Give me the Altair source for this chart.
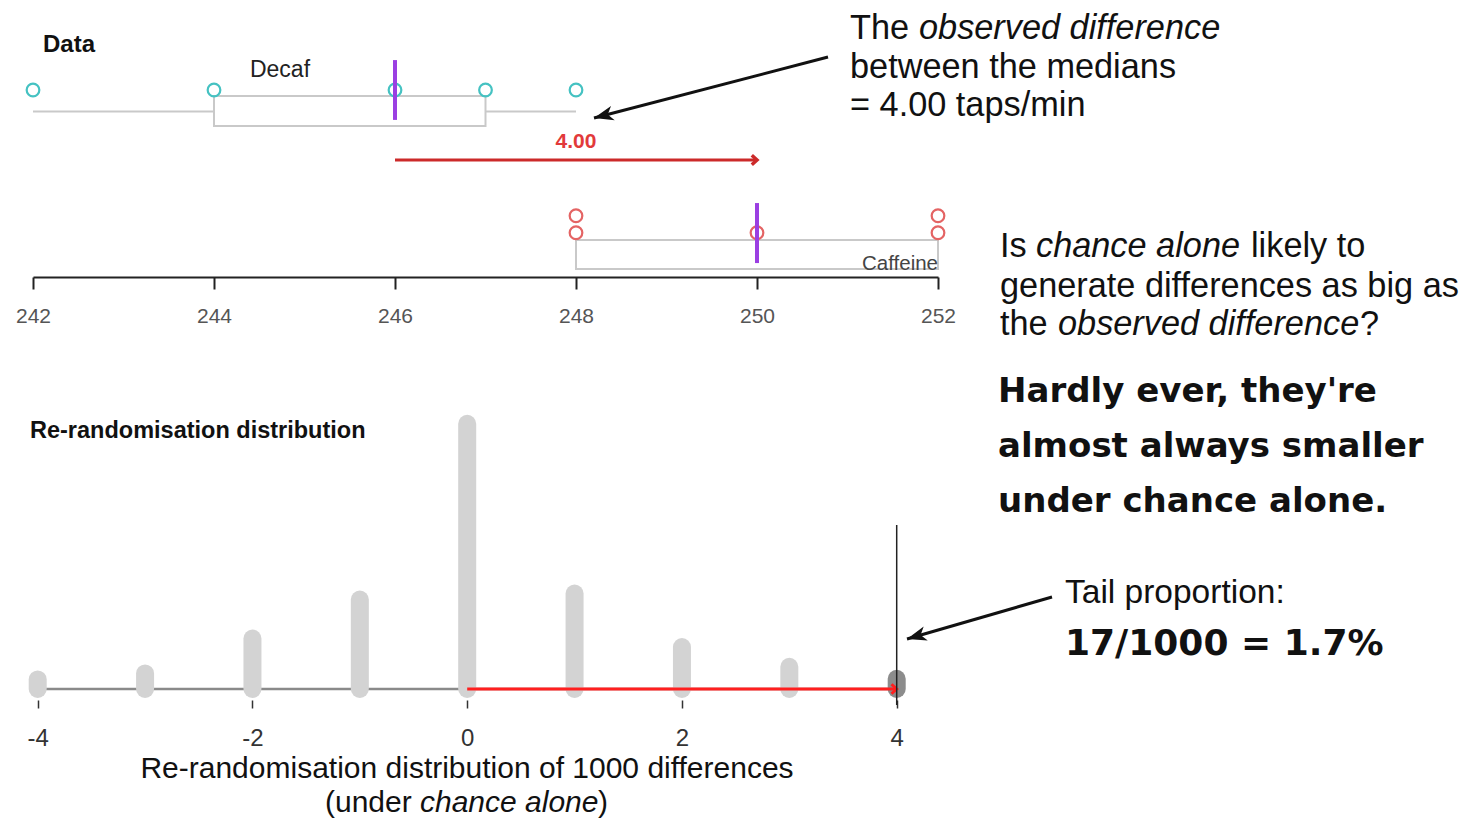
import altair as alt
import numpy as np
import pandas as pd

# ------------------------------------------------------------------ data
group_names = ["Decaf", "Caffeine"]
decaf_taps = [242, 244, 246, 247, 248]
caffeine_taps = [248, 248, 250, 252, 252]
data_ticks = [242, 244, 246, 248, 250, 252]

rerand_diffs = [-4, -3, -2, -1, 0, 1, 2, 3, 4]
rerand_counts = [16, 26, 84, 149, 442, 159, 70, 37, 17]
rerand_ticks = [-4, -2, 0, 2, 4]
units = "taps/min"

# ------------------------------------------------------------------ layout / style
W, H = 1454, 812
SANS = "Liberation Sans, Arial, Helvetica, sans-serif"
HEAVY = "DejaVu Sans, Verdana, sans-serif"
TEAL = "#45c2c2"
CAF_RED = "#e46464"
PURPLE = "#9b3fe2"
BOX_GREY = "#c9c9c9"
ARROW_RED = "#cc2a2a"
LABEL_RED = "#e23a3a"
BRIGHT_RED = "#ff1f1f"
BAR_LIGHT = "#d3d3d3"
BAR_DARK = "#8c8c8c"

TOP_X = alt.Scale(domain=[242, 252], range=[25, 930], nice=False, zero=False)
TOP_Y = alt.Scale(domain=[0, 16], range=[269, -3], nice=False, zero=False)
BOT_X = alt.Scale(domain=[-4, 4], range=[29.7, 888.7], nice=False, zero=False)
BOT_Y = alt.Scale(domain=[0, 500], range=[681, 381], nice=False, zero=False)

LEVELS = {  # vertical placement of each group's row, in stack units
    "Decaf": {"pt": 11.0, "box": (8.88, 10.65), "whisk": 9.74, "med": (9.24, 12.76)},
    "Caffeine": {"pt": 2.6, "box": (0.47, 2.18), "whisk": 1.32, "med": (0.82, 4.35)},
}
ARROW_LEVEL = 6.88
ARROW_LABEL_LEVEL = 7.59

ARROWHEAD = "M0,0 L-2,-0.75 L-1.45,0 L-2,0.75 Z"
CHEVRON = "M-1.1,-1 L0,0 L-1.1,1"

# ------------------------------------------------------------------ derived tables
pt_rows = []
box_rows = []
whisk_rows = []
for g, vals in zip(group_names, [decaf_taps, caffeine_taps]):
    seen = {}
    for v in vals:
        k = seen.get(v, 0)
        seen[v] = k + 1
        pt_rows.append({"group": g, "value": v, "level": LEVELS[g]["pt"] + k})
    a = np.array(vals, dtype=float)
    q1, med, q3 = np.percentile(a, [25, 50, 75])
    lo, hi = a.min(), a.max()
    L = LEVELS[g]
    box_rows.append(dict(group=g, q1=q1, q3=q3, med=med, y1=L["box"][0], y2=L["box"][1],
                         m1=L["med"][0], m2=L["med"][1]))
    if lo < q1:
        whisk_rows.append(dict(group=g, a=lo, b=q1, y=L["whisk"]))
    if hi > q3:
        whisk_rows.append(dict(group=g, a=q3, b=hi, y=L["whisk"]))

pts = pd.DataFrame(pt_rows)
box_df = pd.DataFrame(box_rows)
whisk_df = pd.DataFrame(whisk_rows)

med_decaf = float(np.median(decaf_taps))
med_caf = float(np.median(caffeine_taps))
obs = med_caf - med_decaf
arrow_df = pd.DataFrame({"a": [med_decaf], "b": [med_caf], "y": [ARROW_LEVEL],
                         "mid": [(med_decaf + med_caf) / 2], "ylab": [ARROW_LABEL_LEVEL],
                         "lab": [f"{obs:.2f}"]})

rr = pd.DataFrame({"diff": rerand_diffs, "count": rerand_counts})
rr["zero"] = 0
rr["tail"] = np.where(rr["diff"] >= obs, "tail", "body")
n_rerand = int(rr["count"].sum())
tail_count = int(rr.loc[rr["diff"] >= obs, "count"].sum())
base_df = pd.DataFrame({"a": [min(rerand_diffs)], "b": [max(rerand_diffs)], "y": [0]})
obs_df = pd.DataFrame({"a": [0], "b": [obs], "y": [0]})

# ------------------------------------------------------------------ axes
top_axis = alt.Axis(values=data_ticks, orient="bottom", offset=269 - H, title=None, grid=False,
                    domainColor="#222", domainWidth=2, tickColor="#222", tickWidth=2, tickSize=12,
                    labelFont=SANS, labelFontSize=21, labelColor="#555", labelBaseline="alphabetic",
                    labelPadding=33, labelFlush=False, labelOverlap=False, format="d")
bot_axis = alt.Axis(values=rerand_ticks, orient="bottom", offset=692 - H, title=None, grid=False,
                    domain=False, tickColor="#333", tickWidth=1.5, tickSize=8,
                    labelFont=SANS, labelFontSize=24, labelColor="#333", labelBaseline="alphabetic",
                    labelPadding=37, labelFlush=False, labelOverlap=False,
                    labelExpr="datum.value < 0 ? '-' + abs(datum.value) : '' + datum.value")


def tx(field):
    return alt.X(field, scale=TOP_X, axis=top_axis)


def ty(field):
    return alt.Y(field, scale=TOP_Y, axis=None)


def bx(field):
    return alt.X(field, scale=BOT_X, axis=bot_axis)


def by(field):
    return alt.Y(field, scale=BOT_Y, axis=None)


# ------------------------------------------------------------------ top panel (data)
box = alt.Chart(box_df).mark_rect(fill="transparent", stroke=BOX_GREY, strokeWidth=2).encode(
    x=tx("q1:Q"), x2="q3:Q", y=ty("y1:Q"), y2="y2:Q")
whisk = alt.Chart(whisk_df).mark_rule(color=BOX_GREY, strokeWidth=2).encode(
    x=tx("a:Q"), x2="b:Q", y=ty("y:Q"))
points = alt.Chart(pts).mark_point(shape="circle", filled=False, size=160, strokeWidth=2.2, opacity=1).encode(
    x=tx("value:Q"), y=ty("level:Q"),
    color=alt.Color("group:N", scale=alt.Scale(domain=group_names, range=[TEAL, CAF_RED]), legend=None))
medians = alt.Chart(box_df).mark_rule(color=PURPLE, strokeWidth=4).encode(
    x=tx("med:Q"), y=ty("m1:Q"), y2="m2:Q")
arr_line = alt.Chart(arrow_df).mark_rule(color=ARROW_RED, strokeWidth=3).encode(
    x=tx("a:Q"), x2="b:Q", y=ty("y:Q"))
arr_head = alt.Chart(arrow_df).mark_point(shape=CHEVRON, filled=False, size=90, strokeWidth=3.5,
                                          color=ARROW_RED, opacity=1).encode(x=tx("b:Q"), y=ty("y:Q"))
arr_lab = alt.Chart(arrow_df).mark_text(font=SANS, fontSize=21, fontWeight="bold", color=LABEL_RED,
                                        baseline="alphabetic", align="center").encode(
    x=tx("mid:Q"), y=ty("ylab:Q"), text="lab:N")

top = alt.layer(box, whisk, points, medians, arr_line, arr_head, arr_lab)

# ------------------------------------------------------------------ bottom panel (re-randomisation)
baseline = alt.Chart(base_df).mark_rule(color="#8a8a8a", strokeWidth=2.5).encode(
    x=bx("a:Q"), x2="b:Q", y=by("y:Q"))
bars = alt.Chart(rr).mark_rule(strokeWidth=18, strokeCap="round").encode(
    x=bx("diff:Q"), y=by("count:Q"), y2="zero:Q",
    color=alt.Color("tail:N", scale=alt.Scale(domain=["body", "tail"], range=[BAR_LIGHT, BAR_DARK]),
                    legend=None))
red_line = alt.Chart(obs_df).mark_rule(color=BRIGHT_RED, strokeWidth=3).encode(
    x=bx("a:Q"), x2="b:Q", y=by("y:Q"))
red_head = alt.Chart(obs_df).mark_point(shape=CHEVRON, filled=False, size=90, strokeWidth=3,
                                        color=BRIGHT_RED, opacity=1).encode(x=bx("b:Q"), y=by("y:Q"))
obs_line = alt.Chart(obs_df).mark_rule(color="#222", strokeWidth=1.5).encode(
    x=bx("b:Q"), y=alt.value(517), y2=alt.value(697))

bottom = alt.layer(baseline, bars, red_line, red_head, obs_line)


# ------------------------------------------------------------------ annotation texts
def label(s, x, y, size, font=SANS, weight="normal", style="normal", color="#111", align="left"):
    return alt.Chart(pd.DataFrame({"t": [s]})).mark_text(
        x=x, y=y, font=font, fontSize=size, fontWeight=weight, fontStyle=style, color=color,
        align=align, baseline="alphabetic").encode(text="t:N")


def arrow(x1, y1, x2, y2):
    ang = float(np.degrees(np.arctan2(y2 - y1, x2 - x1)) % 360)
    line = alt.Chart(pd.DataFrame({"k": [0]})).mark_rule(color="#111", strokeWidth=3).encode(
        x=alt.value(x1), y=alt.value(y1), x2=alt.value(x2), y2=alt.value(y2))
    head = alt.Chart(pd.DataFrame({"k": [0]})).mark_point(
        shape=ARROWHEAD, filled=True, size=380, angle=ang, color="#111", opacity=1).encode(
        x=alt.value(x2), y=alt.value(y2))
    return [line, head]


RT = 34.3  # right-hand explanatory text size
BT = 30    # bottom axis title size
texts = [
    label("Data", 35, 44, 24, weight="bold"),
    label("Decaf", 272, 69, 23, color="#222", align="center"),
    label("Caffeine", 930, 262, 20.5, color="#444", align="right"),
    label("Re-randomisation distribution", 22, 430, 23.5, weight="bold"),
    # top-right
    label("The ", 842, 31, RT),
    label("observed difference", 911, 31, RT, style="italic"),
    label("between the medians", 842, 70, RT),
    label(f"= {obs:.2f} {units}", 842, 108, RT),
    # right middle
    label("Is ", 992, 249, RT),
    label("chance alone", 1028, 249, RT, style="italic"),
    label("likely to", 1243, 249, RT),
    label("generate differences as big as", 992, 289, RT),
    label("the ", 992, 327, RT),
    label("observed difference", 1050, 327, RT, style="italic"),
    label("?", 1352, 327, RT),
    label("Hardly ever, they're", 990, 394, 34, font=HEAVY, weight="bold"),
    label("almost always smaller", 990, 449, 34, font=HEAVY, weight="bold"),
    label("under chance alone.", 990, 504, 34, font=HEAVY, weight="bold"),
    # tail
    label("Tail proportion:", 1057, 595, 33.5),
    label(f"{tail_count}/{n_rerand} = {100 * tail_count / n_rerand:.1f}%", 1057, 647, 36,
          font=HEAVY, weight="bold"),
    # bottom axis title
    label(f"Re-randomisation distribution of {n_rerand} differences", 459, 770, BT, align="center"),
    label("(under ", 317, 804, BT),
    label("chance alone", 412, 804, BT, style="italic"),
    label(")", 590, 804, BT),
]
texts += arrow(820, 49, 586, 110)
texts += arrow(1044, 589, 899, 631)

chart = alt.layer(top, bottom, *texts).resolve_scale(
    x="independent", y="independent", color="independent"
).properties(
    width=W, height=H, padding=0, autosize=alt.AutoSizeParams(type="none")
).configure_view(stroke=None)

chart.save("out.html", embed_options={"renderer": "svg", "actions": False})
